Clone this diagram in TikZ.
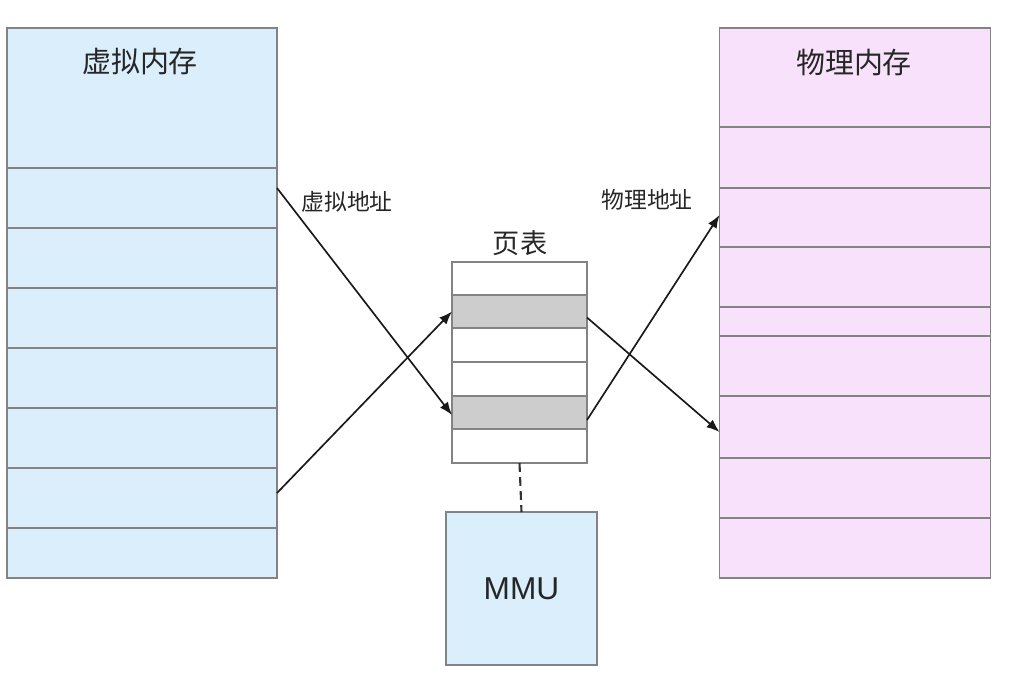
\documentclass[tikz,border=0pt]{standalone}
\usepackage{fontspec}
\newfontfamily\cjk{Noto Sans CJK SC}
\newfontfamily\lat{Liberation Sans}
\usepackage{tikz}
\usetikzlibrary{arrows.meta}

\definecolor{vblue}{HTML}{DAEFFB}
\definecolor{ppink}{HTML}{F8E2FB}
\definecolor{pgray}{HTML}{CDCDCD}
\definecolor{edgegray}{HTML}{838383}

\tikzset{
    cell/.style={draw=edgegray,line width=0.9pt,inner sep=0pt,outer sep=0pt},
    title/.style={font=\cjk\fontsize{16.5}{19}\selectfont,text=black!85},
    addr/.style={font=\cjk\fontsize{13}{16}\selectfont,text=black!85},
    map/.style={-{Latex[length=2.6mm,width=2mm]},line width=0.95pt,black!90},
}

\begin{document}
\begin{tikzpicture}[x=0.02cm,y=-0.02cm]
    \useasboundingbox (0,0) rectangle (1025,698);

    % virtual memory
    \foreach \t/\b/\n in {28/168/1,168/228/2,228/288/3,288/348/4,348/408/5,408/468/6,468/528/7,528/578/8}
        \node[cell,fill=vblue,minimum width=270*0.02cm,minimum height={(\b-\t)*0.02cm}] (v\n) at (142,{(\t+\b)/2}) {};
    \node[title] (vtitle) at (140,62) {虚拟内存};

    % physical memory
    \foreach \t/\b/\n in {28/127/1,127/188/2,188/247/3,247/307/4,307/336/5,336/396/6,396/458/7,458/518/8,518/578/9}
        \node[cell,fill=ppink,minimum width=271*0.02cm,minimum height={(\b-\t)*0.02cm}] (r\n) at (855,{(\t+\b)/2}) {};
    \node[title] (rtitle) at (854,63) {物理内存};

    % page table
    \foreach \t/\b/\n/\c in {262/295/1/white,295/328/2/pgray,328/362/3/white,362/396/4/white,396/429/5/pgray,429/463/6/white}
        \node[cell,fill=\c,minimum width=135*0.02cm,minimum height={(\b-\t)*0.02cm}] (p\n) at (519.5,{(\t+\b)/2}) {};
    \node[title,font=\cjk\fontsize{15.5}{18}\selectfont] (ptitle) at (520,243) {页表};

    % mmu
    \node[cell,fill=vblue,minimum width=151*0.02cm,minimum height=153*0.02cm,
          font=\lat\fontsize{18}{21}\selectfont,text=black!85] (mmu) at (521.5,588.5) {MMU};
    \draw[black!80,line width=1.2pt,dash pattern=on 5pt off 3pt] (p6.south) -- (mmu.north);

    % address labels
    \node[addr] (vaddr) at (347,202) {虚拟地址};
    \node[addr] (paddr) at (647,200) {物理地址};

    \draw[map] ([yshift=0.2cm]v2.east) -- ([yshift=-0.05cm]p5.west); %1
    \draw[map] ([yshift=0.1cm]v7.east) -- (p2.west); %2
    \draw[map] ([yshift=-0.12cm]p2.east) -- ([yshift=-0.1cm]r7.west); %3
    \draw[map] ([yshift=-0.15cm]p5.east) -- ([yshift=0.05cm]r3.west); %4
\end{tikzpicture}
\end{document}
